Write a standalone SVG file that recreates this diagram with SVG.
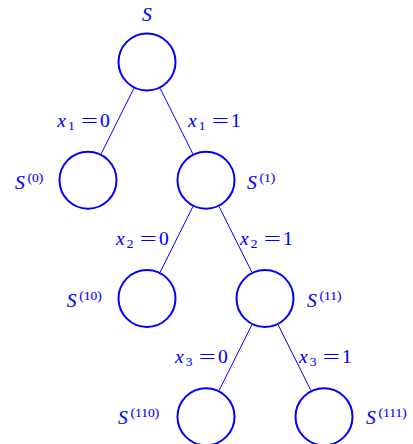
<svg xmlns="http://www.w3.org/2000/svg" width="413" height="444" viewBox="0 0 413 444">
<style>
.node{fill:none;stroke:#0000ff;stroke-width:2}
.edge{stroke:#0000ff;stroke-width:1;fill:none}
text{font-family:"Liberation Serif","DejaVu Serif",serif;fill:#0000ff;stroke:#0000ff;stroke-width:0.1;font-size:19.5px}
.it{font-style:italic}
.sm{font-size:13.5px}
</style>
<rect width="413" height="444" fill="#ffffff"/>
<g id="connectors">
<line class="edge" x1="133.83" y1="88.4" x2="101.17" y2="153.85"/>
<line class="edge" x1="160.17" y1="88.4" x2="192.83" y2="153.85"/>
<line class="edge" x1="192.83" y1="206.65" x2="160.17" y2="272.1"/>
<line class="edge" x1="219.17" y1="206.65" x2="251.83" y2="272.1"/>
<line class="edge" x1="251.83" y1="324.9" x2="219.17" y2="390.35"/>
<line class="edge" x1="278.17" y1="324.9" x2="310.83" y2="390.35"/>
<g id="label-x1-0">
<text x="57.3" y="127"><tspan class="it">x</tspan><tspan class="sm" x="68" y="129.5">1</tspan><tspan x="100" y="127">0</tspan></text>
<text transform="translate(81,127) scale(1.55,1)">=</text>
</g>
<g id="label-x1-1">
<text x="188" y="127"><tspan class="it">x</tspan><tspan class="sm" x="198.7" y="129.5">1</tspan><tspan x="231" y="127">1</tspan></text>
<text transform="translate(211.7,127) scale(1.55,1)">=</text>
</g>
<g id="label-x2-0">
<text x="116" y="245"><tspan class="it">x</tspan><tspan class="sm" x="126.7" y="247.5">2</tspan><tspan x="159" y="245">0</tspan></text>
<text transform="translate(139.7,245) scale(1.55,1)">=</text>
</g>
<g id="label-x2-1">
<text x="240" y="245"><tspan class="it">x</tspan><tspan class="sm" x="250.7" y="247.5">2</tspan><tspan x="283" y="245">1</tspan></text>
<text transform="translate(263.7,245) scale(1.55,1)">=</text>
</g>
<g id="label-x3-0">
<text x="175" y="363"><tspan class="it">x</tspan><tspan class="sm" x="185.7" y="365.5">3</tspan><tspan x="218" y="363">0</tspan></text>
<text transform="translate(198.7,363) scale(1.55,1)">=</text>
</g>
<g id="label-x3-1">
<text x="299" y="363"><tspan class="it">x</tspan><tspan class="sm" x="309.7" y="365.5">3</tspan><tspan x="342" y="363">1</tspan></text>
<text transform="translate(322.7,363) scale(1.55,1)">=</text>
</g>
</g>
<g id="node-S">
<circle class="node" cx="147" cy="62" r="28.5"/>
<text class="it" x="142" y="21">S</text>
</g>
<g id="node-S0">
<circle class="node" cx="88" cy="180.25" r="28.5"/>
<text x="15" y="189"><tspan class="it">S</tspan><tspan class="sm" x="27.5" y="181.5">(0)</tspan></text>
</g>
<g id="node-S1">
<circle class="node" cx="206" cy="180.25" r="28.5"/>
<text x="247" y="189"><tspan class="it">S</tspan><tspan class="sm" x="259.5" y="181.5">(1)</tspan></text>
</g>
<g id="node-S10">
<circle class="node" cx="147" cy="298.5" r="28.5"/>
<text x="66.7" y="307"><tspan class="it">S</tspan><tspan class="sm" x="79.2" y="299.5">(10)</tspan></text>
</g>
<g id="node-S11">
<circle class="node" cx="265" cy="298.5" r="28.5"/>
<text x="307" y="307"><tspan class="it">S</tspan><tspan class="sm" x="319.5" y="299.5">(11)</tspan></text>
</g>
<g id="node-S110">
<circle class="node" cx="206" cy="416.75" r="28.5"/>
<text x="118" y="424"><tspan class="it">S</tspan><tspan class="sm" x="130.5" y="416.5">(110)</tspan></text>
</g>
<g id="node-S111">
<circle class="node" cx="324" cy="416.75" r="28.5"/>
<text x="366" y="424"><tspan class="it">S</tspan><tspan class="sm" x="378.5" y="416.5">(111)</tspan></text>
</g>
</svg>
